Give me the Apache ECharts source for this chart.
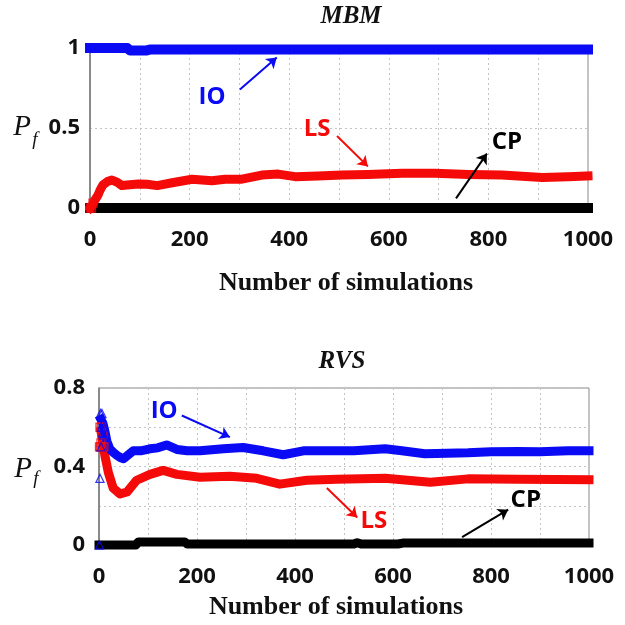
<!DOCTYPE html>
<html><head><meta charset="utf-8">
<script src="https://cdn.jsdelivr.net/npm/echarts@6/dist/echarts.min.js"></script>
<style>html,body{margin:0;padding:0;background:#fff}#c{width:625px;height:625px}</style>
</head><body><div id="c"></div>
<script>
// ---------- data ----------
var xTickLabels = [0, 200, 400, 600, 800, 1000];
var mbmYTickLabels = [0, 0.5, 1];
var rvsYTickLabels = [0, 0.4, 0.8];

// MBM
var mbmIOX = [0, 75, 80, 114, 120, 1000];
var mbmIOY = [1, 1, 0.985, 0.985, 0.99, 0.99];
var mbmLSX = [0, 5, 10, 16, 20, 26, 35, 44, 55, 64, 80, 97, 115, 135, 165, 205, 245, 271, 305, 345, 378, 412, 458, 506, 558, 627, 693, 760, 827, 908, 960, 1000];
var mbmLSY = [0, 0.02, 0.05, 0.08, 0.11, 0.145, 0.165, 0.175, 0.16, 0.14, 0.145, 0.15, 0.148, 0.14, 0.158, 0.18, 0.17, 0.18, 0.18, 0.206, 0.212, 0.196, 0.2, 0.206, 0.21, 0.217, 0.217, 0.21, 0.206, 0.19, 0.196, 0.2];
var mbmCPX = [0, 250, 500, 750, 1000];
var mbmCPY = [0, 0, 0, 0, 0];
var mbmLSEarlyX = [0, 3, 6];
var mbmLSEarlyY = [0, 0, 0.03];

// RVS
var rvsIOEarlyX = [1, 2, 3, 4, 5, 6, 7, 8, 9, 10];
var rvsIOEarlyY = [0, 0.34, 0.67, 0.5, 0.6, 0.67, 0.57, 0.62, 0.56, 0.6];
var rvsIOX = [4, 8, 12, 16, 22, 30, 37, 44, 50, 60, 70, 85, 104, 120, 138, 159, 180, 206, 230, 254, 294, 335, 376, 417, 471, 520, 584, 618, 665, 710, 753, 800, 855, 900, 957, 1000];
var rvsIOY = [0.64, 0.62, 0.58, 0.53, 0.49, 0.47, 0.456, 0.445, 0.44, 0.46, 0.48, 0.48, 0.49, 0.495, 0.51, 0.487, 0.48, 0.48, 0.485, 0.49, 0.497, 0.48, 0.46, 0.48, 0.48, 0.48, 0.49, 0.48, 0.465, 0.468, 0.47, 0.475, 0.477, 0.475, 0.48, 0.48];
var rvsLSEarlyX = [1, 2, 3, 4, 5, 6, 8, 10];
var rvsLSEarlyY = [0.5, 0.6, 0.5, 0.52, 0.6, 0.5, 0.56, 0.5];
var rvsLSX = [4, 8, 12, 19, 29, 43, 57, 77, 104, 131, 159, 206, 267, 322, 369, 424, 486, 584, 676, 753, 855, 1000];
var rvsLSY = [0.58, 0.52, 0.456, 0.37, 0.29, 0.26, 0.27, 0.33, 0.36, 0.38, 0.36, 0.345, 0.35, 0.34, 0.31, 0.33, 0.335, 0.34, 0.32, 0.337, 0.335, 0.333];
var rvsCPX = [0, 75, 80, 175, 180, 520, 527, 535, 610, 620, 1000];
var rvsCPY = [0, 0, 0.015, 0.015, 0.005, 0.005, 0.012, 0.005, 0.005, 0.01, 0.01];

// ---------- helpers ----------
function pairs(xs, ys) { return xs.map(function (x, i) { return [x, ys[i]]; }); }
var BLUE = '#0a0af5', RED = '#f50a0a', BLACK = '#000000';
var tickFont = { fontFamily: 'Open Sans', fontWeight: 'bold', fontSize: 22, color: '#111' };
var gridLine = { show: true, lineStyle: { color: '#c4c4c4', type: [2, 3], width: 1 } };

function xAxisFor(gi) {
  return {
    type: 'value', gridIndex: gi, min: 0, max: 1000, interval: 100,
    axisLine: { show: true, onZero: false, lineStyle: { color: '#777', width: 1 } },
    axisTick: { show: false },
    splitLine: gridLine,
    axisLabel: Object.assign({ margin: 21, formatter: function (v) { return xTickLabels.indexOf(v) >= 0 ? String(v) : ''; } }, tickFont)
  };
}
function yAxisFor(gi, max, interval, labels, margin) {
  return {
    type: 'value', gridIndex: gi, min: 0, max: max, interval: interval,
    axisLine: { show: true, lineStyle: { color: '#777', width: 1.5 } },
    axisTick: { show: false },
    splitLine: gridLine,
    axisLabel: Object.assign({ margin: margin, formatter: function (v) {
      var r = Math.round(v * 10) / 10;
      return labels.indexOf(r) >= 0 ? String(r) : '';
    } }, tickFont)
  };
}
function lineSeries(name, gi, xs, ys, color, width) {
  return {
    name: name, type: 'line', xAxisIndex: gi, yAxisIndex: gi, data: pairs(xs, ys),
    symbol: 'none', clip: false, silent: true, animation: false,
    lineStyle: { color: color, width: width, cap: 'square', join: 'round' }, z: 3
  };
}
function marker(name, gi, xs, ys, color, sym) {
  return {
    name: name, type: 'scatter', xAxisIndex: gi, yAxisIndex: gi, data: pairs(xs, ys),
    symbol: sym, symbolSize: 8, clip: false, silent: true, animation: false,
    itemStyle: { color: 'rgba(255,255,255,0)', borderColor: color, borderWidth: 1.3 }, z: 4
  };
}
function annot(gi, text, color, tx, ty, a0, a1) {
  return {
    type: 'line', xAxisIndex: gi, yAxisIndex: gi, data: [], silent: true, animation: false,
    markLine: {
      silent: true, animation: false, symbol: ['none', 'arrow'], symbolSize: 10,
      label: { show: false },
      lineStyle: { color: color, width: 2, type: 'solid' },
      data: [[{ coord: a0 }, { coord: a1 }]]
    },
    markPoint: {
      silent: true, animation: false, symbol: 'rect', symbolSize: 1,
      itemStyle: { color: 'rgba(255,255,255,0)' },
      label: { show: true, position: 'inside', formatter: text, color: color, fontFamily: 'Open Sans', fontWeight: 'bold', fontSize: 24 },
      data: [{ coord: [tx, ty] }]
    }
  };
}

var chart = echarts.init(document.getElementById('c'), null, { renderer: 'canvas' });
chart.setOption({
  animation: false,
  backgroundColor: '#fff',
  grid: [
    { left: 90, top: 48, width: 498, height: 160, show: true, borderColor: '#888', borderWidth: 1 },
    { left: 99, top: 388, width: 490, height: 157, show: true, borderColor: '#888', borderWidth: 1 }
  ],
  xAxis: [xAxisFor(0), xAxisFor(1)],
  yAxis: [yAxisFor(0, 1, 0.5, mbmYTickLabels, 10), yAxisFor(1, 0.8, 0.2, rvsYTickLabels, 14)],
  series: [
    lineSeries('CP', 0, mbmCPX, mbmCPY, BLACK, 10),
    lineSeries('LS', 0, mbmLSX, mbmLSY, RED, 9),
    lineSeries('IO', 0, mbmIOX, mbmIOY, BLUE, 10),
    marker('LS early', 0, mbmLSEarlyX, mbmLSEarlyY, RED, 'rect'),
    lineSeries('CP', 1, rvsCPX, rvsCPY, BLACK, 9),
    lineSeries('LS', 1, rvsLSX, rvsLSY, RED, 9),
    lineSeries('IO', 1, rvsIOX, rvsIOY, BLUE, 9),
    marker('LS early', 1, rvsLSEarlyX, rvsLSEarlyY, RED, 'rect'),
    marker('IO early', 1, rvsIOEarlyX, rvsIOEarlyY, BLUE, 'triangle'),
    annot(0, 'IO', BLUE, 245, 0.69, [301, 0.74], [375, 0.94]),
    annot(0, 'LS', RED, 456, 0.49, [496, 0.45], [558, 0.26]),
    annot(0, 'CP', BLACK, 837, 0.41, [735, 0.06], [797, 0.34]),
    annot(1, 'IO', BLUE, 133, 0.68, [169, 0.66], [267, 0.55]),
    annot(1, 'LS', RED, 561, 0.12, [465, 0.29], [527, 0.14]),
    annot(1, 'CP', BLACK, 871, 0.23, [741, 0.04], [835, 0.18])
  ],
  graphic: [
    { type: 'text', silent: true, style: { x: 351, y: 17, text: 'MBM', font: 'italic bold 25px "Liberation Serif"', fill: '#111', align: 'center', verticalAlign: 'middle' } },
    { type: 'text', silent: true, style: { x: 342, y: 362, text: 'RVS', font: 'italic bold 25px "Liberation Serif"', fill: '#111', align: 'center', verticalAlign: 'middle' } },
    { type: 'text', silent: true, style: { x: 346, y: 283, text: 'Number of simulations', font: 'bold 26px "Liberation Serif"', fill: '#111', align: 'center', verticalAlign: 'middle' } },
    { type: 'text', silent: true, style: { x: 336, y: 607, text: 'Number of simulations', font: 'bold 26px "Liberation Serif"', fill: '#111', align: 'center', verticalAlign: 'middle' } },
    { type: 'text', silent: true, style: { x: 22, y: 127, text: 'P', font: 'italic 29px "Liberation Serif"', fill: '#111', align: 'center', verticalAlign: 'middle' } },
    { type: 'text', silent: true, style: { x: 35, y: 140, text: 'f', font: 'italic 19px "Liberation Serif"', fill: '#111', align: 'center', verticalAlign: 'middle' } },
    { type: 'text', silent: true, style: { x: 23, y: 469, text: 'P', font: 'italic 29px "Liberation Serif"', fill: '#111', align: 'center', verticalAlign: 'middle' } },
    { type: 'text', silent: true, style: { x: 36, y: 479, text: 'f', font: 'italic 19px "Liberation Serif"', fill: '#111', align: 'center', verticalAlign: 'middle' } }
  ]
});
</script></body></html>
